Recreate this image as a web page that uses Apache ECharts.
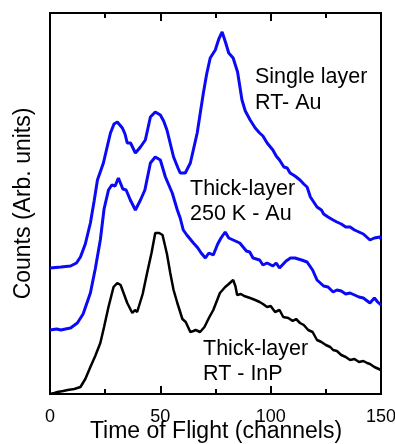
<!DOCTYPE html>
<html>
<head>
<meta charset="utf-8">
<script src="https://cdn.jsdelivr.net/npm/echarts@6/dist/echarts.min.js"></script>
<style>html,body{margin:0;padding:0;background:#fff;}#c{width:395px;height:444px;}</style>
</head>
<body>
<div id="c"></div>
<script>
// Single layer RT - Au (top, blue)
const chTop  = [0,5,9.3,12,13.8,16,18.3,20,21.5,24.2,26,27.4,29,30.5,32.8,34,35,36.5,38.7,41,43.2,45.5,47.7,50,51.5,53,56,58,59,61.3,63.6,66.7,69.5,71,72.6,74.9,76.5,78,79.5,81,83,85,87,88.5,90.7,93,95,96.5,98.4,101,102.5,104,106,107.5,108.8,111,113.3,115,116.5,118,121,123,124,126,128.3,130,132,134,136,138,140,142,145,147,149.5,150];
const valTop = [126,127,128,131,137,150,171,193,214,231,248,261,270,272,266,260,251,251,241,247,254,277,282,279,273,264,237,226,221,221,231,261,301,320,336,344,355,362,352,341,336,322,294,283,274,266,261,258,251,244,238,234,227,226,221,218,214,210,207,197,187,184,180,177,174,172,170,167,167,164,162,160,154,156,157,155];
// Thick-layer 250 K - Au (middle, blue)
const chMid  = [0,3,5,7,9.3,12.4,15,18.3,20.5,22.8,24.5,26.5,28,29.5,31,33,34.5,36.4,38.7,41,43,45.5,47.7,50,52.3,55.4,57.7,59,60.4,62,65,67,68.5,70.4,72,74,76,77.5,79.4,81,83,86,89,90.5,92,95,96.5,98.4,101,102.5,104,107,109,111,114,116.5,119,121,124,126,128.3,130,132,134,136,140,142,145,147,148.5,150];
const valMid = [64,65,64,65,66,71,80,101,125,154,185,204,209,208,216,205,204,194,184,194,204,231,237,234,217,201,184,176,164,159,151,146,141,136,141,139,150,156,162,156,154,151,143,142,136,134,129,131,128,131,126,133,136,136,134,132,124,114,108,107,102,104,103,100,101,97,96,91,96,92,89];
// Thick-layer RT - InP (bottom, black)
const chBot  = [0,2,3.4,6,8,11,13.8,16,18.3,20.5,22.8,24.5,26.5,28.8,30.5,32,33.5,35,37.3,38.5,39.5,42,44,46,47.7,49.5,51,53,54.5,56,57.7,60,61.5,63.6,65,66,68,70,72,74,77,79.4,81,83,84,84.8,86.5,88,90.7,93,95,96.5,98.4,100,102,104,105.7,108,110,111.5,113.3,115,117,119,121,123,125,127,128.3,130,132,134,136,138,140,142,143.7,145,147,150];
const valBot = [0,1,2,3,4,5,7,15,27,38,51,67,87,107,111,109,100,91,81,84,82,100,121,141,161,161,159,140,121,104,91,75,72,62,63,64,62,67,76,84,101,107,110,114,108,99,100,98,96,94,92,90,87,88,82,84,77,76,73,75,71,69,64,62,54,52,49,47,44,43,39,37,34,35,32,33,31,30,27,24];

const mk = (xs, ys) => xs.map((x, i) => [x, ys[i]]);
const xTicks = [0, 50, 100, 150];
const xTitle = 'Time of Flight (channels)';
const yTitle = 'Counts (Arb. units)';

const chart = echarts.init(document.getElementById('c'), null, {renderer: 'canvas'});
const font = 'Liberation Sans, Arial, Helvetica, sans-serif';
const axisCommon = {
  type: 'value', min: 0, max: 150, interval: 50,
  axisLine: {show: true, lineStyle: {color: '#000', width: 2}},
  axisTick: {show: true, inside: true, length: 8, lineStyle: {color: '#000', width: 2}},
  minorTick: {show: true, splitNumber: 2, length: 5, lineStyle: {color: '#000', width: 2}},
  splitLine: {show: false}
};
chart.setOption({
  animation: false,
  backgroundColor: '#fff',
  grid: {left: 50, right: 14, top: 13, bottom: 50, show: true, borderColor: '#000', borderWidth: 2,
         containLabel: false, outerBoundsMode: 'none'},
  xAxis: [
    Object.assign({}, axisCommon, {
      position: 'bottom',
      axisLabel: {show: true, fontSize: 18, color: '#000', fontFamily: font, margin: 14,
        formatter: v => xTicks.indexOf(v) >= 0 ? String(v) : ''}
    }),
    Object.assign({}, axisCommon, {position: 'top', axisLabel: {show: false}})
  ],
  yAxis: {
    type: 'value', min: 0, max: 381,
    name: yTitle, nameLocation: 'middle', nameGap: 15, nameRotate: 90,
    nameTextStyle: {fontSize: 23, color: '#000', fontFamily: font},
    axisLine: {show: true, lineStyle: {color: '#000', width: 2}},
    axisTick: {show: false}, axisLabel: {show: false}, splitLine: {show: false}
  },
  series: [
    {type: 'line', data: mk(chTop, valTop), showSymbol: false, symbol: 'none', lineStyle: {color: '#0a0af5', width: 3}},
    {type: 'line', data: mk(chMid, valMid), showSymbol: false, symbol: 'none', lineStyle: {color: '#0a0af5', width: 3}},
    {type: 'line', data: mk(chBot, valBot), showSymbol: false, symbol: 'none', lineStyle: {color: '#000', width: 2.5}}
  ],
  graphic: [
    {type: 'text', x: 216, y: 432, style: {text: xTitle, font: '23px ' + font, fill: '#000', align: 'center', verticalAlign: 'middle'}},
    {type: 'text', left: 255, top: 64, style: {text: 'Single layer\nRT- Au', font: '21.5px ' + font, fill: '#000', lineHeight: 26}},
    {type: 'text', left: 190, top: 177, style: {text: 'Thick-layer\n250 K - Au', font: '21.5px ' + font, fill: '#000', lineHeight: 25}},
    {type: 'text', left: 203, top: 337, style: {text: 'Thick-layer\nRT - InP', font: '21.5px ' + font, fill: '#000', lineHeight: 25}}
  ]
});
</script>
</body>
</html>
